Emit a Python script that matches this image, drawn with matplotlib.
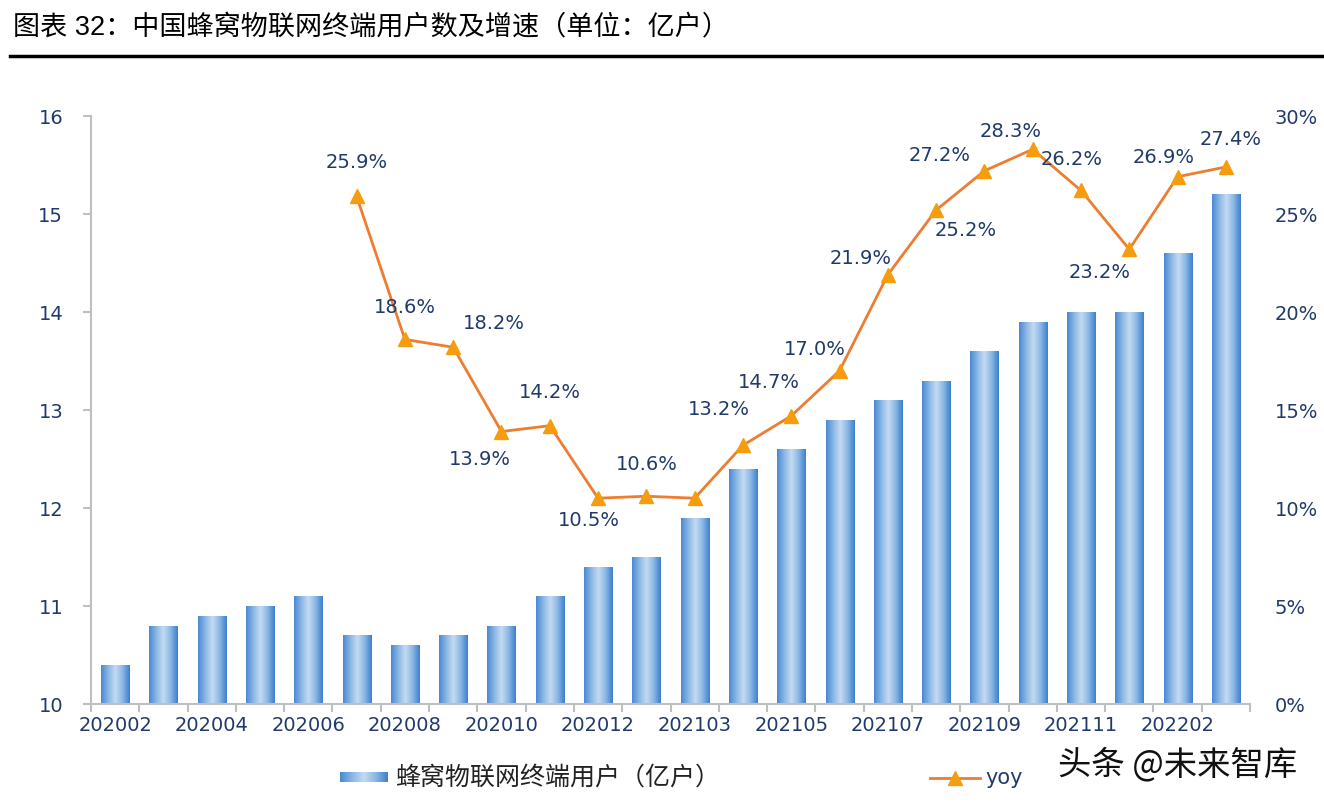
import numpy as np
import matplotlib
matplotlib.use("Agg")
import matplotlib.pyplot as plt
from matplotlib.colors import LinearSegmentedColormap
from matplotlib.lines import Line2D

# data
months = ["202002", "202003", "202004", "202005", "202006", "202007", "202008",
          "202009", "202010", "202011", "202012", "202102", "202103", "202104",
          "202105", "202106", "202107", "202108", "202109", "202110", "202111",
          "202112", "202202", "202203"]
users = [10.4, 10.8, 10.9, 11.0, 11.1, 10.7, 10.6, 10.7, 10.8, 11.1, 11.4, 11.5,
         11.9, 12.4, 12.6, 12.9, 13.1, 13.3, 13.6, 13.9, 14.0, 14.0, 14.6, 15.2]
yoy = [None, None, None, None, None, 25.9, 18.6, 18.2, 13.9, 14.2, 10.5, 10.6,
       10.5, 13.2, 14.7, 17.0, 21.9, 25.2, 27.2, 28.3, 26.2, 23.2, 26.9, 27.4]
yoy_labels = [None, None, None, None, None, "25.9%", "18.6%", "18.2%", "13.9%",
              "14.2%", "10.5%", "10.6%", None, "13.2%", "14.7%", "17.0%", "21.9%",
              "25.2%", "27.2%", "28.3%", "26.2%", "23.2%", "26.9%", "27.4%"]
# label offsets in pixels (dx, dy up)
label_off = [None] * 5 + [(0, 35), (0, 33), (41, 25), (-22, -27), (0, 34), (-9, -21),
                          (0, 33), None, (-24, 37), (-22, 34), (-25, 22), (-27, 17),
                          (30, -19), (-45, 16), (-22, 19), (-9, 32), (-30, -22),
                          (-14, 20), (5, 28)]

navy = "#1f3a6b"
grey = "#bfbfbf"
cjk = ["Noto Sans CJK SC", "DejaVu Sans"]
num_font = ["DejaVu Sans"]

fig = plt.figure(figsize=(13.24, 8.03), dpi=100)
ax = fig.add_axes([91 / 1324, 98 / 803, (1250 - 91) / 1324, (705 - 117) / 803])
ax2 = ax.twinx()

x = np.arange(len(months))
bw = 0.58
bar_cmap = LinearSegmentedColormap.from_list(
    "bar", ["#4a8ad3", "#8ab7e5", "#c4dbf1", "#8ab7e5", "#3f80cc"])
grad = np.linspace(0, 1, 64).reshape(1, -1)

bars = ax.bar(x, users, width=bw, color="none", edgecolor="none", zorder=2)
for b in bars:
    im = ax.imshow(grad, cmap=bar_cmap, aspect="auto", zorder=2,
                   extent=[b.get_x(), b.get_x() + b.get_width(), 10, b.get_height()])
    im.set_clip_path(b)

ax.set_xlim(-0.5, len(months) - 0.5)
ax.set_ylim(10, 16)
ax.set_yticks(range(10, 17))

xs = [i for i, v in enumerate(yoy) if v is not None]
ys = [yoy[i] for i in xs]
ax2.plot(xs, ys, color="#ed7d31", lw=2, marker="^", ms=10,
         markerfacecolor="#f59d0e", markeredgecolor="#f59d0e", zorder=3)
ax2.set_ylim(0, 30)
ax2.set_yticks(range(0, 31, 5))
ax2.set_yticklabels([f"{v}%" for v in range(0, 31, 5)])

for i, lab in enumerate(yoy_labels):
    if lab is None:
        continue
    ax2.annotate(lab, (i, yoy[i]), xytext=label_off[i], textcoords="offset pixels",
                 ha="center", va="center", fontsize=14, color=navy, family=num_font)

for a in (ax, ax2):
    for s in a.spines.values():
        s.set_visible(False)
ax.spines["left"].set_visible(True)
ax.spines["bottom"].set_visible(True)
ax.spines["left"].set_color(grey)
ax.spines["bottom"].set_color(grey)
ax.spines["left"].set_linewidth(1.5)
ax.spines["bottom"].set_linewidth(1.5)

ax.set_xticks(x[::2])
ax.set_xticklabels(months[::2])
ax.set_xticks(np.arange(-0.5, len(months)), minor=True)
ax.tick_params(axis="x", which="major", length=0, pad=8, labelsize=14, labelcolor=navy)
ax.tick_params(axis="x", which="minor", length=6, width=1.5, color=grey)
ax.tick_params(axis="y", length=6, width=1.5, color=grey, pad=14,
               labelsize=14, labelcolor=navy)
ax2.tick_params(axis="y", length=0, pad=18, labelsize=14, labelcolor=navy)
for t in ax.get_xticklabels() + ax.get_yticklabels() + ax2.get_yticklabels():
    t.set_family(num_font)

# title and rule
fig.text(13 / 1324, 1 - 27 / 803, "图表 32：中国蜂窝物联网终端用户数及增速（单位：亿户）",
         fontsize=19.5, va="center", ha="left", family=["Liberation Sans"] + cjk)
fig.add_artist(Line2D([10 / 1324, 1], [1 - 57 / 803] * 2, color="black", lw=2.5))

# legend
lax = fig.add_axes([340 / 1324, 1 - 783 / 803, 48 / 1324, 10 / 803])
lax.imshow(grad, cmap=bar_cmap, aspect="auto")
lax.axis("off")
fig.text(395 / 1324, 1 - 778 / 803, "蜂窝物联网终端用户（亿户）", fontsize=18,
         va="center", ha="left", family=cjk, color="#222222")
fig.add_artist(Line2D([930 / 1324, 980 / 1324], [1 - 779 / 803] * 2,
                      color="#ed7d31", lw=2))
fig.add_artist(Line2D([955 / 1324], [1 - 779 / 803], marker="^", ms=10,
                      color="#f59d0e", lw=0))
fig.text(985 / 1324, 1 - 778 / 803, "yoy", fontsize=15, va="center", ha="left",
         family=num_font, color=navy)

fig.text(1058 / 1324, 1 - 765 / 803, "头条 @未来智库", fontsize=24, va="center",
         ha="left", family=cjk, color="#111111")

fig.savefig("out.png", dpi=100)
